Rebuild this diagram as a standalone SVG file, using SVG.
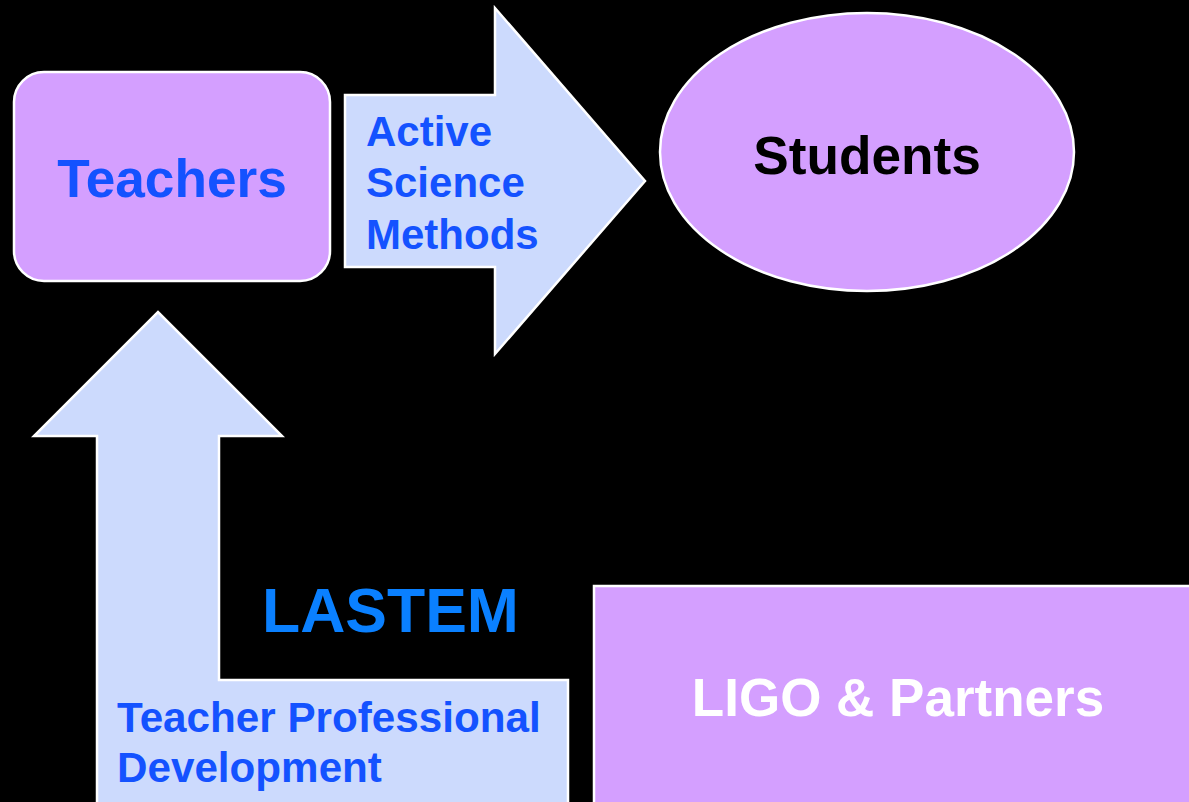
<svg xmlns="http://www.w3.org/2000/svg" width="1189" height="802" viewBox="0 0 1189 802">
<style>
.node{fill:#D49FFF;stroke:#FFFFFF;stroke-width:2.5}
.arrow{fill:#CCDAFD;stroke:#FFFFFF;stroke-width:2.5}
text{font-family:"Liberation Sans",Arial,sans-serif;font-weight:bold}
.blue{fill:#1452FF}
</style>
<rect width="1189" height="802" fill="#000000"/>
<g id="connectors">
<g id="active-arrow">
<path class="arrow" d="M345,95 L495,95 L495,8 L645,181 L495,354 L495,267 L345,267 Z"/>
<text class="blue" font-size="42" x="366" y="146">Active</text>
<text class="blue" font-size="42" x="366" y="197">Science</text>
<text class="blue" font-size="42" x="366" y="249">Methods</text>
</g>
<g id="tpd-arrow">
<path class="arrow" d="M97,804 L97,436 L34,436 L158,312 L282,436 L219,436 L219,680 L568,680 L568,804 Z"/>
<text class="blue" font-size="42.2" x="117" y="732">Teacher Professional</text>
<text class="blue" font-size="42.2" x="117" y="782">Development</text>
</g>
</g>
<g id="teachers">
<rect class="node" x="14" y="72" width="316" height="209" rx="30" ry="30"/>
<text class="blue" font-size="53.2" x="172" y="197" text-anchor="middle">Teachers</text>
</g>
<g id="students">
<ellipse class="node" cx="867" cy="152" rx="207" ry="139"/>
<text font-size="53.2" x="867" y="174" text-anchor="middle" fill="#000000">Students</text>
</g>
<g id="lastem">
<text font-size="62.5" x="262" y="632" fill="#0A80FF">LASTEM</text>
</g>
<g id="ligo">
<rect class="node" x="594" y="586" width="600" height="220"/>
<text font-size="53" x="898" y="716" text-anchor="middle" fill="#FFFFFF">LIGO &amp; Partners</text>
</g>
</svg>
